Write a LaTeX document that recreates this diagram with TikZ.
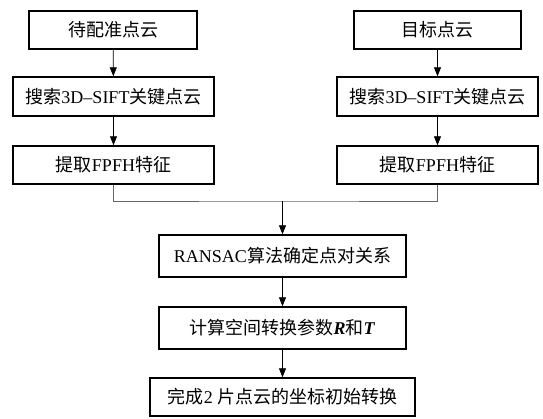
\documentclass[tikz,border=0pt]{standalone}
\usepackage{fontspec}
\setmainfont{Liberation Serif}
\newfontfamily\cjk{Noto Sans CJK SC}
\usetikzlibrary{arrows.meta}
\tikzset{
  box/.style={draw, line width=1.4pt, inner sep=0pt, font=\fontsize{18}{20}\selectfont, anchor=center},
  arr/.style={-{Triangle[length=9pt,width=7pt]}, line width=0.8pt},
  mergeline/.style={draw=black!60, line width=0.8pt}
}
\begin{document}
\begin{tikzpicture}[x=1pt,y=-1pt]
\useasboundingbox (0,0) rectangle (543,418);
\node[box, minimum width=168pt, minimum height=38pt] (a1) at (113,30) {\cjk 待配准点云};
\node[box, minimum width=201pt, minimum height=39pt] (a2) at (113.5,96.5) {{\cjk 搜索}3D–SIFT{\cjk 关键点云}};
\node[box, minimum width=201pt, minimum height=38pt] (a3) at (113.5,165) {{\cjk 提取}FPFH{\cjk 特征}};
\node[box, minimum width=167pt, minimum height=38pt] (b1) at (437.5,30) {\cjk 目标点云};
\node[box, minimum width=201pt, minimum height=39pt] (b2) at (437.5,96.5) {{\cjk 搜索}3D–SIFT{\cjk 关键点云}};
\node[box, minimum width=201pt, minimum height=38pt] (b3) at (437.5,165) {{\cjk 提取}FPFH{\cjk 特征}};
\node[box, minimum width=247pt, minimum height=42pt] (c1) at (282.5,256) {RANSAC{\cjk 算法确定点对关系}};
\node[box, minimum width=247pt, minimum height=42pt] (c2) at (282.5,328) {{\cjk 计算空间转换参数}\textbf{\textit{R}}{\cjk 和}\textbf{\textit{T}}};
\node[box, minimum width=265pt, minimum height=38pt] (c3) at (282.5,397) {{\cjk 完成}2 {\cjk 片点云的坐标初始转换}};
\coordinate (m) at (282.5,201);
\draw[arr] (a1) -- (a2);
\draw[arr] (a2) -- (a3);
\draw[arr] (b1) -- (b2);
\draw[arr] (b2) -- (b3);
\draw[mergeline] (a3.south) |- (m) -| (b3.south);
\draw[arr] (m) -- (c1);
\draw[arr] (c1) -- (c2);
\draw[arr] (c2) -- (c3);
\end{tikzpicture}
\end{document}
